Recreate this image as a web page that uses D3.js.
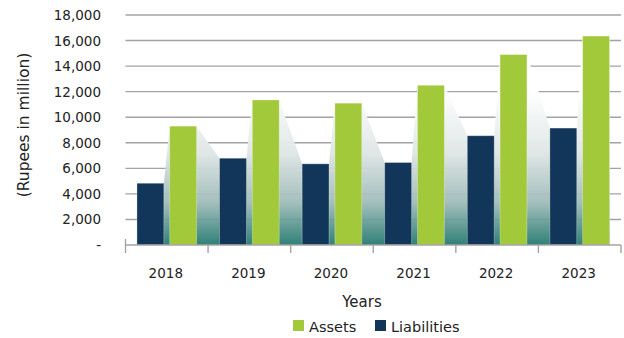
<!DOCTYPE html>
<html>
<head>
<meta charset="utf-8">
<script src="https://cdn.jsdelivr.net/npm/d3@7"></script>
<style>
  html, body { margin: 0; padding: 0; background: #fff; }
  svg { display: block; font-family: "DejaVu Sans", "Open Sans", sans-serif; }
</style>
</head>
<body>
<svg id="chart" width="624" height="338"></svg>
<script>
// Balance sheet totals, Rupees in million
const years = ["2018", "2019", "2020", "2021", "2022", "2023"];
const assets = [9300, 11350, 11100, 12500, 14900, 16350];
const liabilities = [4830, 6790, 6350, 6450, 8550, 9150];
const yTicks = [0, 2000, 4000, 6000, 8000, 10000, 12000, 14000, 16000, 18000];
const seriesNames = ["Liabilities", "Assets"];
const legendOrder = ["Assets", "Liabilities"];

const colors = { Assets: "#a2c93a", Liabilities: "#12365a" };

const svg = d3.select("#chart");
const margin = { left: 125.5, right: 3, top: 15, bottom: 93 };
const W = 624, H = 338;
const plotL = margin.left, plotR = W - margin.right;
const plotT = margin.top, plotB = H - margin.bottom;

const x0 = d3.scaleBand().domain(years).range([plotL, plotR]).padding(0);
const x1 = d3.scaleBand().domain(seriesNames).range([0, x0.bandwidth()])
  .paddingInner(0.18).paddingOuter(0.35);
const y = d3.scaleLinear().domain([0, 18000]).range([plotB, plotT]);

const rows = years.map((yr, i) => ({ year: yr, Assets: assets[i], Liabilities: liabilities[i] }));

// gradient for the backdrop silhouette
const defs = svg.append("defs");
const grad = defs.append("linearGradient").attr("id", "shade")
  .attr("gradientUnits", "userSpaceOnUse")
  .attr("x1", 0).attr("x2", 0).attr("y1", y(12000)).attr("y2", y(0));
[[0, "#ffffff", 1], [0.4, "#dfe6e6", 0.97], [0.72, "#9dbab7", 0.92], [1, "#1f776d", 0.93]]
  .forEach(([o, c, op]) => grad.append("stop").attr("offset", o).attr("stop-color", c).attr("stop-opacity", op));

// gridlines
svg.append("g").selectAll("line").data(yTicks.filter(t => t > 0)).join("line")
  .attr("x1", plotL).attr("x2", plotR)
  .attr("y1", d => y(d)).attr("y2", d => y(d))
  .attr("stroke", "#a3a3a3").attr("stroke-width", 1.4);

// silhouette running along the bar tops
const bw = x1.bandwidth();
const pts = [];
rows.forEach((r, i) => {
  const lx = x0(r.year) + x1("Liabilities");
  const ax = x0(r.year) + x1("Assets");
  if (i === 0) pts.push([lx, 0]);
  pts.push([lx, r.Liabilities], [lx + bw, r.Liabilities], [ax, r.Assets], [ax + bw, r.Assets]);
  if (i === rows.length - 1) pts.push([ax + bw, 0]);
});
const area = d3.area().x(d => d[0]).y0(y(0)).y1(d => y(d[1]));
svg.append("path").attr("d", area(pts)).attr("fill", "url(#shade)");

// bars
const groups = svg.append("g").selectAll("g").data(rows).join("g")
  .attr("transform", d => `translate(${x0(d.year)},0)`);
groups.selectAll("rect").data(d => seriesNames.map(k => ({ key: k, value: d[k] }))).join("rect")
  .attr("x", d => x1(d.key))
  .attr("y", d => y(d.value))
  .attr("width", bw)
  .attr("height", d => y(0) - y(d.value))
  .attr("fill", d => colors[d.key])
  .attr("stroke", "rgba(255,255,255,0.35)").attr("stroke-width", 0.8);

// category axis
const ax = svg.append("g");
ax.append("line").attr("x1", plotL).attr("x2", plotR).attr("y1", plotB).attr("y2", plotB)
  .attr("stroke", "#a3a3a3").attr("stroke-width", 1.4);
const bounds = years.map(yv => x0(yv)).concat([plotR]);
ax.selectAll("line.tk").data(bounds).join("line").attr("class", "tk")
  .attr("x1", d => d).attr("x2", d => d)
  .attr("y1", (d, i) => i === 0 ? plotB - 6 : plotB).attr("y2", plotB + 8)
  .attr("stroke", "#a3a3a3").attr("stroke-width", 1.4);
ax.selectAll("text").data(years).join("text")
  .attr("x", d => x0(d) + x0.bandwidth() / 2 - 1)
  .attr("y", 278)
  .attr("text-anchor", "middle")
  .attr("font-size", 13.5).attr("fill", "#222")
  .text(d => d);

// value axis labels
svg.append("g").selectAll("text").data(yTicks).join("text")
  .attr("x", 101)
  .attr("y", d => y(d) + 5)
  .attr("text-anchor", "end")
  .attr("font-size", 13.5).attr("fill", "#222")
  .text(d => d === 0 ? "-" : d3.format(",")(d));

// axis titles
svg.append("text")
  .attr("transform", `translate(29,125) rotate(-90)`)
  .attr("text-anchor", "middle")
  .attr("font-size", 15.5).attr("fill", "#222")
  .text("(Rupees in million)");
svg.append("text")
  .attr("x", 362).attr("y", 307)
  .attr("text-anchor", "middle")
  .attr("font-size", 15).attr("fill", "#222")
  .text("Years");

// legend
const lg = svg.append("g").attr("transform", "translate(293,320)");
legendOrder.forEach((k, i) => {
  const g = lg.append("g").attr("transform", `translate(${i === 0 ? 0 : 82},0)`);
  g.append("rect").attr("width", 11).attr("height", 11).attr("fill", colors[k]);
  g.append("text").attr("x", 16).attr("y", 11.5)
    .attr("font-size", 14.5).attr("fill", "#222").text(k);
});
</script>
</body>
</html>
